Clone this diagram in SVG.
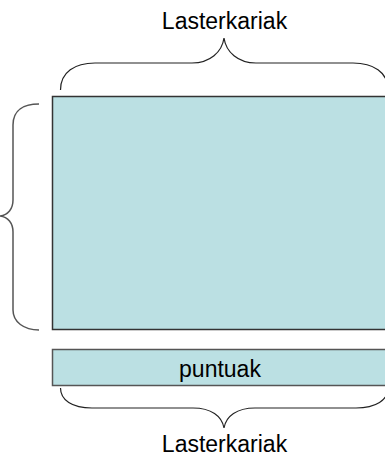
<svg xmlns="http://www.w3.org/2000/svg" width="385" height="456" viewBox="0 0 385 456">
  <style>
    .box { fill: #bbe0e3; stroke: #333333; stroke-width: 1.5; }
    .brace { fill: none; stroke: #222222; stroke-width: 1.2; }
    .brace-side { fill: none; stroke: #555555; stroke-width: 1.5; }
    .label { font-family: "Liberation Sans", Arial, sans-serif; font-size: 23px; fill: #000000; text-anchor: middle; }
  </style>

  <!-- main area -->
  <g id="area">
    <rect class="box" x="52.5" y="96.5" width="340" height="233"/>
  </g>

  <!-- strip of points -->
  <g id="puntuak">
    <rect class="box" x="52.5" y="349.5" width="340" height="36" style="stroke:#555555"/>
    <text class="label" x="220" y="377">puntuak</text>
  </g>

  <!-- labels -->
  <g id="top-label">
    <text class="label" x="224.5" y="29">Lasterkariak</text>
  </g>
  <g id="bottom-label">
    <text class="label" x="224.5" y="452">Lasterkariak</text>
  </g>

  <!-- braces -->
  <g id="connectors">
    <path class="brace" d="M60.5,90 C60.5,72 75,63 95,63 L192,63 C210,63 222,52 224,38 C226,52 238,63 256,63 L353,63 C373,63 388,72 388,90"/>
    <path class="brace-side" d="M39,104 C24,104 13,110 13,125 L13,200 C13,209 8,215 0,216 C8,217 13,223 13,232 L13,310 C13,322 24,330 39,330"/>
    <path class="brace" d="M60.5,388 C60.5,400 72,408 92,408 L193,408 C211,408 222,416 224,428 C226,416 237,408 255,408 L356,408 C376,408 388,400 388,388"/>
  </g>
</svg>
